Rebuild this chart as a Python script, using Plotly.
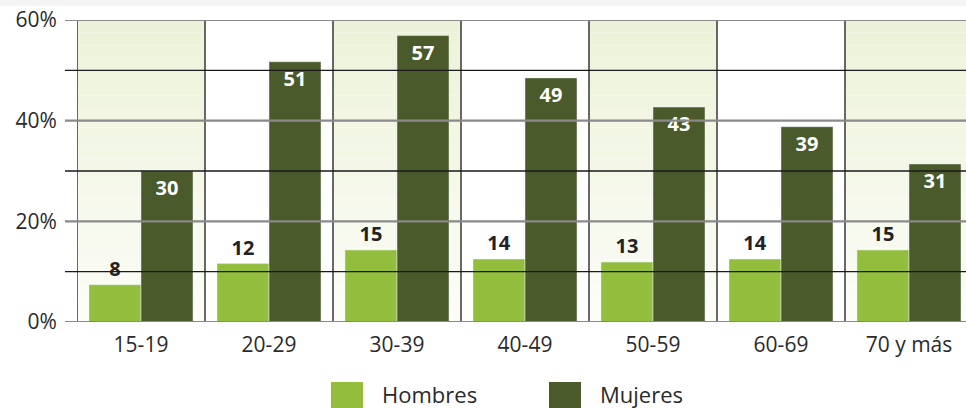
import plotly.graph_objects as go

grupos = ["15-19", "20-29", "30-39", "40-49", "50-59", "60-69", "70 y más"]
hombres = [7.4, 11.6, 14.3, 12.5, 11.9, 12.5, 14.3]
hombres_txt = ["8", "12", "15", "14", "13", "14", "15"]
mujeres = [30.0, 51.7, 56.9, 48.5, 42.7, 38.8, 31.4]
mujeres_txt = ["30", "51", "57", "49", "43", "39", "31"]
y_ticks = [0, 20, 40, 60]
y_ticktext = ["0%", "20%", "40%", "60%"]

verde_claro = "#92bd3d"
verde_oscuro = "#4a5a2a"
fuente = "Open Sans"

# plot area geometry (px) so decorations can be placed in paper coords
W_PLOT = 889
H_PLOT = 302

fig = go.Figure()
x = list(range(len(grupos)))

fig.add_bar(x=x, y=hombres, name="Hombres", marker_color=verde_claro,
            text=hombres_txt, textposition="outside", cliponaxis=False,
            textfont=dict(family=fuente, size=20, color="#222222", weight="bold"))
fig.add_bar(x=x, y=mujeres, name="Mujeres", marker_color=verde_oscuro,
            text=mujeres_txt, textposition="inside", insidetextanchor="end",
            textfont=dict(family=fuente, size=20, color="white", weight="bold"))

shapes = []

# soft green gradient behind every other age group
n_strips = 24
top_rgb = (236, 242, 216)
bot_rgb = (252, 253, 248)
for i in range(0, len(grupos), 2):
    for s in range(n_strips):
        t = (s + 0.5) / n_strips
        c = tuple(round(b + (tp - b) * t) for b, tp in zip(bot_rgb, top_rgb))
        shapes.append(dict(type="rect", xref="x", yref="y", layer="below",
                           x0=i - 0.5, x1=i + 0.5,
                           y0=60 * s / n_strips, y1=60 * (s + 1) / n_strips,
                           line_width=0, fillcolor="rgb(%d,%d,%d)" % c))

# vertical separators
for i in range(len(grupos) + 1):
    shapes.append(dict(type="line", xref="x", yref="y", layer="above",
                       x0=i - 0.5, x1=i - 0.5, y0=0, y1=60,
                       line=dict(color="#1a1a1a", width=1.3)))

# horizontal lines, extending a bit left of the plot
for v in [10, 30, 50]:
    shapes.append(dict(type="line", xref="paper", yref="y", layer="above",
                       x0=-12 / W_PLOT, x1=1, y0=v, y1=v,
                       line=dict(color="#1a1a1a", width=1.3)))
for v in y_ticks:
    shapes.append(dict(type="line", xref="paper", yref="y", layer="above",
                       x0=-12 / W_PLOT, x1=1, y0=v, y1=v,
                       line=dict(color="#8a8a8a", width=2.2)))

# faint shadow band at the very top
shapes.append(dict(type="rect", xref="paper", yref="paper", layer="below",
                   x0=-77 / W_PLOT, x1=1, y0=(322 - 6) / H_PLOT, y1=322 / H_PLOT,
                   line_width=0, fillcolor="#f4f4f4"))

# legend drawn by hand (large square swatches)
annotations = []
for nombre, color, sx, tx in [("Hombres", verde_claro, 331, 380),
                              ("Mujeres", verde_oscuro, 549, 598)]:
    shapes.append(dict(type="rect", xref="paper", yref="paper",
                       x0=(sx - 77) / W_PLOT, x1=(sx + 32 - 77) / W_PLOT,
                       y0=(322 - 414) / H_PLOT, y1=(322 - 382) / H_PLOT,
                       line_width=0, fillcolor=color))
    annotations.append(dict(text=nombre, xref="paper", yref="paper",
                            x=(tx - 77) / W_PLOT, y=(322 - 394) / H_PLOT,
                            xanchor="left", yanchor="middle", showarrow=False,
                            font=dict(family=fuente, size=22, color="#2a2a2a")))

fig.update_layout(
    width=966, height=408,
    margin=dict(l=77, r=0, t=20, b=86),
    paper_bgcolor="white", plot_bgcolor="white",
    barmode="group", bargap=0.1875, bargroupgap=0,
    showlegend=False,
    shapes=shapes, annotations=annotations,
    font=dict(family=fuente, color="#2a2a2a"),
)
fig.update_xaxes(range=[-0.5, 6.5 - 7 / 128], tickvals=x, ticktext=grupos,
                 showgrid=False, zeroline=False, showline=False,
                 ticks="outside", ticklen=4, tickcolor="rgba(0,0,0,0)",
                 tickfont=dict(family=fuente, size=21, color="#2a2a2a"))
fig.update_yaxes(range=[0, 60], tickvals=y_ticks, ticktext=y_ticktext,
                 showgrid=False, zeroline=False, showline=False,
                 ticks="outside", ticklen=15, tickcolor="rgba(0,0,0,0)",
                 tickfont=dict(family=fuente, size=21, color="#2a2a2a"))

# page has a default 8px body margin; drop it so the chart sits at the corner
fig.write_html("out.html", config={"displayModeBar": False},
               post_script="document.body.style.margin='0';")
